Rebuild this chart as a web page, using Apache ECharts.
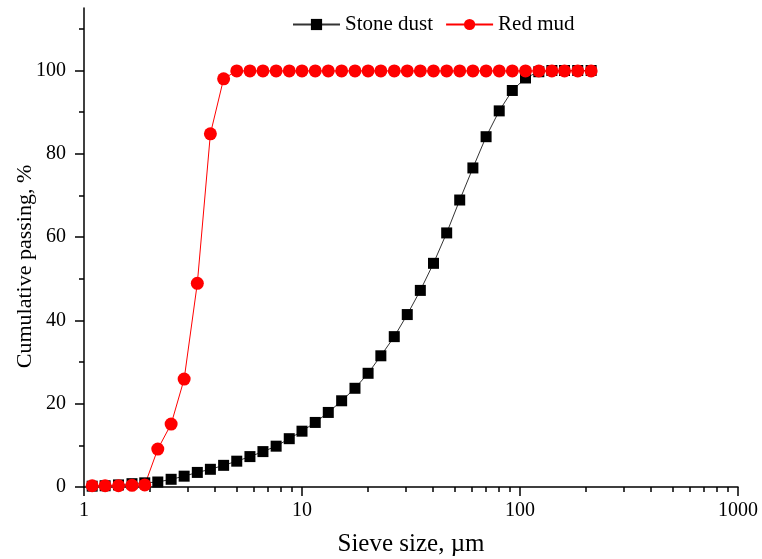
<!DOCTYPE html>
<html>
<head>
<meta charset="utf-8">
<script src="https://cdn.jsdelivr.net/npm/echarts@6/dist/echarts.min.js"></script>
<style>
html, body { margin: 0; padding: 0; background: #fff; }
#chart { width: 762px; height: 559px; }
</style>
</head>
<body>
<div id="chart"></div>
<script>
// sieve sizes, um (log spaced bins)
var sizes = [1.09, 1.25, 1.44, 1.66, 1.90, 2.18, 2.51, 2.88, 3.31, 3.80,
    4.37, 5.02, 5.77, 6.62, 7.61, 8.74, 10.0, 11.5, 13.2, 15.2,
    17.5, 20.1, 23.0, 26.5, 30.4, 34.9, 40.1, 46.1, 52.9, 60.8,
    69.9, 80.3, 92.2, 106, 122, 140, 160, 184, 212];
var stoneDust = [0.2, 0.3, 0.5, 0.8, 1.0, 1.2, 1.85, 2.6, 3.5, 4.25,
    5.2, 6.2, 7.3, 8.5, 9.8, 11.6, 13.4, 15.5, 17.9, 20.7,
    23.7, 27.3, 31.5, 36.1, 41.4, 47.2, 53.7, 61.0, 68.9, 76.6,
    84.1, 90.3, 95.2, 98.2, 99.7, 100, 100, 100, 100];
var redMud = [0.3, 0.3, 0.3, 0.4, 0.5, 9.1, 15.1, 25.9, 48.9, 84.8,
    98.0, 99.9, 99.9, 99.9, 99.9, 99.9, 99.9, 99.9, 99.9, 99.9,
    99.9, 99.9, 99.9, 99.9, 99.9, 99.9, 99.9, 99.9, 99.9, 99.9,
    99.9, 99.9, 99.9, 99.9, 99.9, 99.9, 99.9, 99.9, 99.9];
var yMajor = [0, 20, 40, 60, 80, 100];
var yMinor = [10, 30, 50, 70, 90, 110];
var xMinor = [2, 3, 4, 5, 6, 7, 8, 9, 20, 30, 40, 50, 60, 70, 80, 90,
    200, 300, 400, 500, 600, 700, 800, 900];

function pairs(ys) {
    var out = [];
    for (var i = 0; i < sizes.length; i++) {
        out.push([sizes[i], ys[i]]);
    }
    return out;
}

var font = 'Liberation Serif, Times New Roman, serif';
var axisLine = { show: true, onZero: false, lineStyle: { color: '#000', width: 1.5 } };

var chart = echarts.init(document.getElementById('chart'));
chart.setOption({
    animation: false,
    backgroundColor: '#fff',
    textStyle: { fontFamily: font, color: '#000' },
    grid: { left: 84, right: 24, top: 8, bottom: 72, containLabel: false, outerBoundsMode: 'none' },
    legend: {
        left: 287,
        top: 9,
        itemWidth: 47,
        itemHeight: 14,
        itemGap: 12,
        textStyle: { fontFamily: font, fontSize: 21, color: '#000' },
        data: ['Stone dust', 'Red mud']
    },
    xAxis: [{
        type: 'log',
        logBase: 10,
        min: 1,
        max: 1000,
        position: 'bottom',
        name: 'Sieve size, \u00b5m',
        nameLocation: 'middle',
        nameGap: 45,
        nameMoveOverlap: false,
        nameTextStyle: { fontFamily: font, fontSize: 25, color: '#000' },
        axisLine: axisLine,
        axisTick: { show: true, inside: false, length: 9, lineStyle: { color: '#000', width: 1.5 } },
        axisLabel: {
            fontFamily: font, fontSize: 20, color: '#000', margin: 14,
            formatter: function (v) { return String(v); }
        },
        splitLine: { show: false },
        minorTick: { show: false }
    }, {
        type: 'log',
        logBase: 10,
        min: 1,
        max: 1000,
        position: 'bottom',
        axisLine: { show: false, onZero: false },
        axisTick: { show: true, inside: false, length: 5, customValues: xMinor, lineStyle: { color: '#000', width: 1.5 } },
        axisLabel: { show: false },
        splitLine: { show: false }
    }],
    yAxis: [{
        type: 'value',
        min: 0,
        max: 115,
        interval: 20,
        position: 'left',
        name: 'Cumulative passing, %',
        nameLocation: 'middle',
        nameGap: 48,
        nameMoveOverlap: false,
        nameTextStyle: { fontFamily: font, fontSize: 22, color: '#000', padding: [0, 38, 0, 0] },
        axisLine: axisLine,
        axisTick: { show: true, inside: false, length: 9, customValues: yMajor, lineStyle: { color: '#000', width: 1.5 } },
        axisLabel: { fontFamily: font, fontSize: 20, color: '#000', margin: 18, customValues: yMajor },
        splitLine: { show: false }
    }, {
        type: 'value',
        min: 0,
        max: 115,
        position: 'left',
        axisLine: { show: false, onZero: false },
        axisTick: { show: true, inside: false, length: 5, customValues: yMinor, lineStyle: { color: '#000', width: 1.5 } },
        axisLabel: { show: false },
        splitLine: { show: false }
    }],
    series: [{
        name: 'Stone dust',
        type: 'line',
        xAxisIndex: 0,
        yAxisIndex: 0,
        data: pairs(stoneDust),
        symbol: 'rect',
        symbolSize: 11,
        itemStyle: { color: '#000' },
        lineStyle: { color: '#333', width: 1 }
    }, {
        name: 'Red mud',
        type: 'line',
        xAxisIndex: 0,
        yAxisIndex: 0,
        data: pairs(redMud),
        symbol: 'circle',
        symbolSize: 13,
        itemStyle: { color: '#ff0000' },
        lineStyle: { color: '#ff0000', width: 1 }
    }]
});
</script>
</body>
</html>
